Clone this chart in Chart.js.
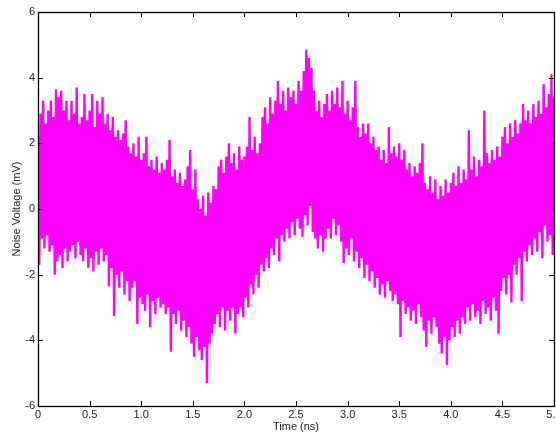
<!DOCTYPE html>
<html>
<head>
<meta charset="utf-8">
<script src="https://cdn.jsdelivr.net/npm/chart.js@4.4.0/dist/chart.umd.min.js"></script>
<style>
  html, body { margin: 0; padding: 0; background: #fff; }
  #wrap { width: 556px; height: 438px; }
</style>
</head>
<body>
<div id="wrap"><canvas id="myChart" width="556" height="438"></canvas></div>
<script>
// sample spacing of the trace (ns); each step holds one peak and one trough
const step = 0.025;

// upper peaks of the noise trace (mV), one every 0.025 ns from 0 to 5 ns
const peaks = [
  2.2, 2.9, 3.3, 2.6, 3.0, 3.3, 2.8, 3.65, 3.4, 3.6, 3.0, 3.3, 2.7, 3.3, 2.9, 3.7, 2.6, 2.8, 3.5, 2.7,
  3.0, 3.5, 2.5, 3.3, 2.9, 3.4, 2.6, 2.9, 2.4, 2.8, 2.2, 2.4, 2.1, 2.3, 2.7, 1.9, 1.7, 2.0, 1.6, 2.2,
  1.5, 1.7, 2.2, 1.3, 1.5, 1.2, 1.6, 1.1, 1.4, 1.2, 1.5, 2.1, 1.0, 1.2, 0.8, 1.1, 0.7, 0.9, 1.3, 1.8,
  0.6, 1.2, 0.3, 0.0, 0.4, -0.2, 0.5, 0.2, 0.7, 0.6, 1.3, 1.5, 1.1, 1.6, 2.0, 1.4, 1.7, 1.2, 1.9, 1.5,
  1.6, 1.9, 2.8, 1.8, 2.2, 1.7, 2.0, 2.8, 3.1, 2.6, 3.4, 2.9, 3.3, 3.9, 3.2, 3.6, 3.0, 3.7, 3.4, 3.6,
  3.2, 3.9, 3.6, 4.2, 4.85, 4.6, 4.3, 3.6, 3.0, 3.3, 2.8, 3.2, 3.5, 3.0, 3.6, 3.2, 3.7, 3.1, 3.9, 2.9,
  3.3, 2.7, 3.1, 3.9, 2.5, 2.2, 2.6, 2.3, 2.6, 2.0, 2.2, 1.8, 1.9, 1.5, 1.8, 1.4, 2.5, 1.7, 1.9, 1.6,
  2.0, 1.5, 1.8, 1.2, 1.4, 1.0, 1.3, 1.1, 1.4, 2.0, 0.8, 0.6, 1.0, 0.5, 0.9, 0.3, 0.7, 0.4, 0.9, 0.5,
  0.8, 1.1, 0.7, 1.3, 0.8, 1.2, 0.9, 2.4, 1.2, 1.6, 1.0, 1.5, 1.3, 3.0, 1.7, 1.4, 1.8, 1.5, 1.9, 1.6,
  2.2, 2.5, 2.0, 2.6, 2.2, 2.7, 2.3, 2.6, 3.2, 2.7, 3.0, 2.6, 3.2, 2.8, 3.3, 2.9, 3.8, 3.1, 3.5, 4.1,
  3.4
];

// lower troughs (mV), each half a step after the matching peak
const troughs = [
  -1.7, -0.9, -1.2, -0.8, -1.3, -1.1, -2.0, -1.6, -1.4, -1.8, -1.2, -1.6, -1.3, -1.1, -1.5, -1.0, -1.4, -1.6, -1.2, -1.8,
  -1.5, -1.9, -1.3, -1.7, -1.2, -1.6, -1.4, -2.35, -1.8, -3.26, -2.0, -2.4, -1.9, -2.6, -2.2, -2.8, -2.4, -2.2, -3.5, -2.7,
  -2.9, -3.1, -2.6, -3.6, -2.8, -3.2, -2.7, -3.0, -2.9, -3.2, -3.0, -4.35, -3.2, -3.5, -3.1, -3.7, -3.4, -3.9, -3.6, -4.1,
  -4.5, -3.9, -4.3, -4.6, -4.2, -5.3, -4.1, -3.8, -3.5, -3.2, -3.6, -3.0, -3.7, -3.1, -3.4, -3.0, -3.8, -3.2, -3.0, -3.3,
  -2.7, -3.0, -2.3, -2.6, -2.0, -2.4, -1.7, -1.9, -1.5, -1.8, -1.2, -1.4, -0.9, -1.6, -0.8, -1.0, -0.6, -0.9, -0.4, -0.8,
  -0.3, -0.6, -0.85, -0.2, -0.5, 0.1, -0.7, -0.9, -1.2, -0.8, -1.3, -0.9, -0.6, -0.9, -0.3, -0.8, -0.5, -1.0, -1.65, -1.2,
  -1.4, -0.9, -1.6, -1.3, -1.8, -1.5, -2.1, -1.7, -2.2, -1.9, -2.4, -2.1, -2.6, -2.3, -2.7, -2.2, -2.5, -2.8, -2.6, -2.9,
  -3.9, -2.8, -3.2, -3.0, -3.4, -3.1, -3.5, -2.9, -3.3, -3.7, -4.2, -3.4, -3.8, -3.3, -3.6, -4.1, -4.4, -3.9, -4.75, -4.0,
  -3.6, -3.9, -3.4, -3.8, -3.3, -3.5, -3.0, -3.4, -2.9, -3.3, -3.1, -3.5, -2.8, -3.2, -3.0, -3.4, -2.7, -3.1, -3.8, -2.5,
  -2.1, -2.6, -2.0, -2.85, -1.7, -2.0, -1.5, -2.8, -1.3, -1.6, -1.1, -1.4, -0.9, -1.3, -0.7, -1.5, -0.5, -1.0, -0.8, -1.4,
  -0.9
];

const xTicks = [0, 0.5, 1, 1.5, 2, 2.5, 3, 3.5, 4, 4.5, 5];
const yTicks = [-6, -4, -2, 0, 2, 4, 6];

// interleave peaks and troughs into one trace
const trace = [];
peaks.forEach((p, i) => {
  trace.push({ x: i * step, y: p });
  if (i * step + step / 2 <= 5) trace.push({ x: i * step + step / 2, y: troughs[i] });
});

const font = { family: 'Liberation Sans, Arial, Helvetica, sans-serif', size: 11 };

// matlab style box with inward ticks
const boxPlugin = {
  id: 'box',
  afterDraw(chart) {
    const { ctx, chartArea: a, scales } = chart;
    ctx.save();
    ctx.strokeStyle = '#000';
    ctx.lineWidth = 1;
    ctx.beginPath();
    xTicks.forEach(v => {
      const x = Math.round(scales.x.getPixelForValue(v)) + 0.5;
      ctx.moveTo(x, a.bottom); ctx.lineTo(x, a.bottom - 5);
      ctx.moveTo(x, a.top); ctx.lineTo(x, a.top + 5);
    });
    yTicks.forEach(v => {
      const y = Math.round(scales.y.getPixelForValue(v)) + 0.5;
      ctx.moveTo(a.left, y); ctx.lineTo(a.left + 5, y);
      ctx.moveTo(a.right, y); ctx.lineTo(a.right - 5, y);
    });
    ctx.stroke();
    ctx.lineWidth = 1.3;
    ctx.strokeRect(Math.round(a.left) + 0.5, Math.round(a.top) + 0.5,
      Math.round(a.right - a.left), Math.round(a.bottom - a.top));
    ctx.restore();
  }
};

new Chart(document.getElementById('myChart').getContext('2d'), {
  type: 'line',
  data: {
    datasets: [{
      data: trace,
      borderColor: '#ff00ff',
      borderWidth: 2.4,
      borderJoinStyle: 'bevel',
      pointRadius: 0,
      // a tiny tension keeps straight segments but skips the per-pixel fast path
      tension: 0.000001,
      fill: false
    }]
  },
  options: {
    responsive: false,
    animation: false,
    events: [],
    layout: { padding: { top: 12, right: 2, left: 0, bottom: 0 } },
    plugins: { legend: { display: false }, tooltip: { enabled: false } },
    scales: {
      x: {
        type: 'linear',
        min: 0,
        max: 5,
        grid: { display: false, drawTicks: false },
        border: { display: false },
        ticks: { stepSize: 0.5, color: '#222', font, padding: 2, maxRotation: 0, autoSkip: false },
        title: { display: true, text: 'Time (ns)', color: '#222', font, padding: { top: 0, bottom: 4.4 } },
        afterFit(s) { s.height = 32; s.paddingLeft = 0; s.paddingRight = 0; }
      },
      y: {
        min: -6,
        max: 6,
        grid: { display: false, drawTicks: false },
        border: { display: false },
        ticks: { stepSize: 2, color: '#222', font, padding: 3 },
        title: { display: true, text: 'Noise Voltage (mV)', color: '#222', font, padding: { top: 10.4, bottom: 0 } },
        afterFit(s) { s.width = 38; s.paddingTop = 0; s.paddingBottom = 0; }
      }
    }
  },
  plugins: [boxPlugin]
});
</script>
</body>
</html>
